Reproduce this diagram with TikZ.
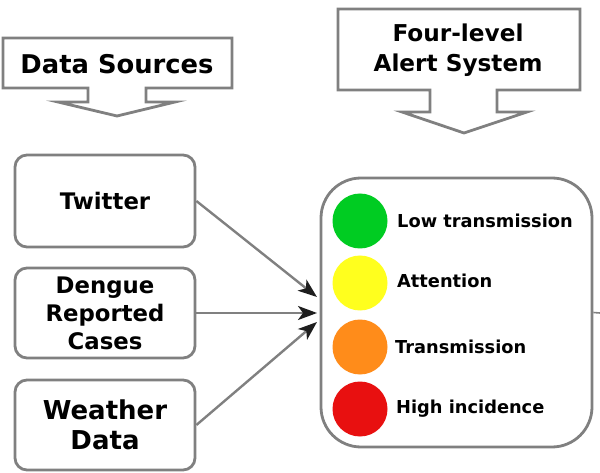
\documentclass[tikz,border=0pt]{standalone}
\usepackage{fontspec}
\setmainfont{DejaVu Sans}
\usetikzlibrary{arrows.meta}
\definecolor{lnc}{RGB}{128,128,128}
\definecolor{tipc}{RGB}{30,30,30}
\definecolor{cgreen}{RGB}{0,204,34}
\definecolor{cyellow}{RGB}{255,255,30}
\definecolor{corange}{RGB}{255,140,26}
\definecolor{cred}{RGB}{232,16,16}
\tikzset{
  srcbox/.style={draw=lnc, line width=2.8pt, rounded corners=12pt, fill=white, inner sep=0pt,
    minimum width=180pt, align=center, font=\bfseries},
  bigbox/.style={draw=lnc, line width=2.8pt, rounded corners=40pt, fill=white, inner sep=0pt,
    minimum width=271pt, minimum height=269pt},
  callout/.style={draw=lnc, line width=2.8pt, fill=white, line join=miter},
  lamp/.style={circle, inner sep=0pt, minimum size=55pt},
  lbl/.style={anchor=west, inner sep=0pt, font=\bfseries\fontsize{17.8}{20}\selectfont},
  conn/.style={draw=lnc, line width=2.4pt, -{Stealth[length=19pt,width=14pt,inset=5pt,color=tipc,fill=tipc]}},
}
\begin{document}
\begin{tikzpicture}[x=1pt,y=-1pt]
\useasboundingbox (0,0) rectangle (600,473);
% callouts
\draw[callout] (3,38) -- (232,38) -- (232,88) -- (146,88) -- (146,102) -- (175,102) -- (117,116) -- (58,102) -- (88,102) -- (88,88) -- (3,88) -- cycle;
\node[font=\bfseries\fontsize{25.8}{30}\selectfont] (ds) at (117,64) {Data Sources};
\draw[callout] (338,9) -- (580,9) -- (580,90) -- (497,90) -- (497,112) -- (527,112) -- (464,133) -- (402,112) -- (430,112) -- (430,90) -- (338,90) -- cycle;
\node[font=\bfseries\fontsize{23.2}{30}\selectfont, align=center] (fl) at (458,50) {Four-level\\Alert System};
% source boxes
\node[srcbox, minimum height=92pt, font=\bfseries\fontsize{22.8}{28}\selectfont] (tw) at (105,201) {Twitter};
\node[srcbox, minimum height=90pt, font=\bfseries\fontsize{22.8}{28}\selectfont] (dg) at (105,313) {Dengue\\Reported\\Cases};
\node[srcbox, minimum height=90pt, font=\bfseries\fontsize{26}{30}\selectfont] (wd) at (105,425) {Weather\\Data};
% alert box
\node[bigbox] (big) at (456.5,312.5) {};
\coordinate (stub) at (600,313);
\draw[draw=lnc, line width=1.6pt] (big.east) -- (stub);
\node[lamp, fill=cgreen] (c1) at (360,221) {};
\node[lamp, fill=cyellow] (c2) at (360,283) {};
\node[lamp, fill=corange] (c3) at (360,347) {};
\node[lamp, fill=cred] (c4) at (360,409) {};
\node[lbl] (l1) at (397,221) {Low transmission};
\node[lbl] (l2) at (397,281) {Attention};
\node[lbl] (l3) at (395,347) {Transmission};
\node[lbl] (l4) at (396,409) {High incidence};
% connectors
\coordinate (e1) at (317,297);
\coordinate (e2) at (317,313);
\coordinate (e3) at (317,322);
\draw[conn] (tw.east) -- (e1);
\draw[conn] (dg.east) -- (e2);
\draw[conn] (wd.east) -- (e3);
\end{tikzpicture}
\end{document}
